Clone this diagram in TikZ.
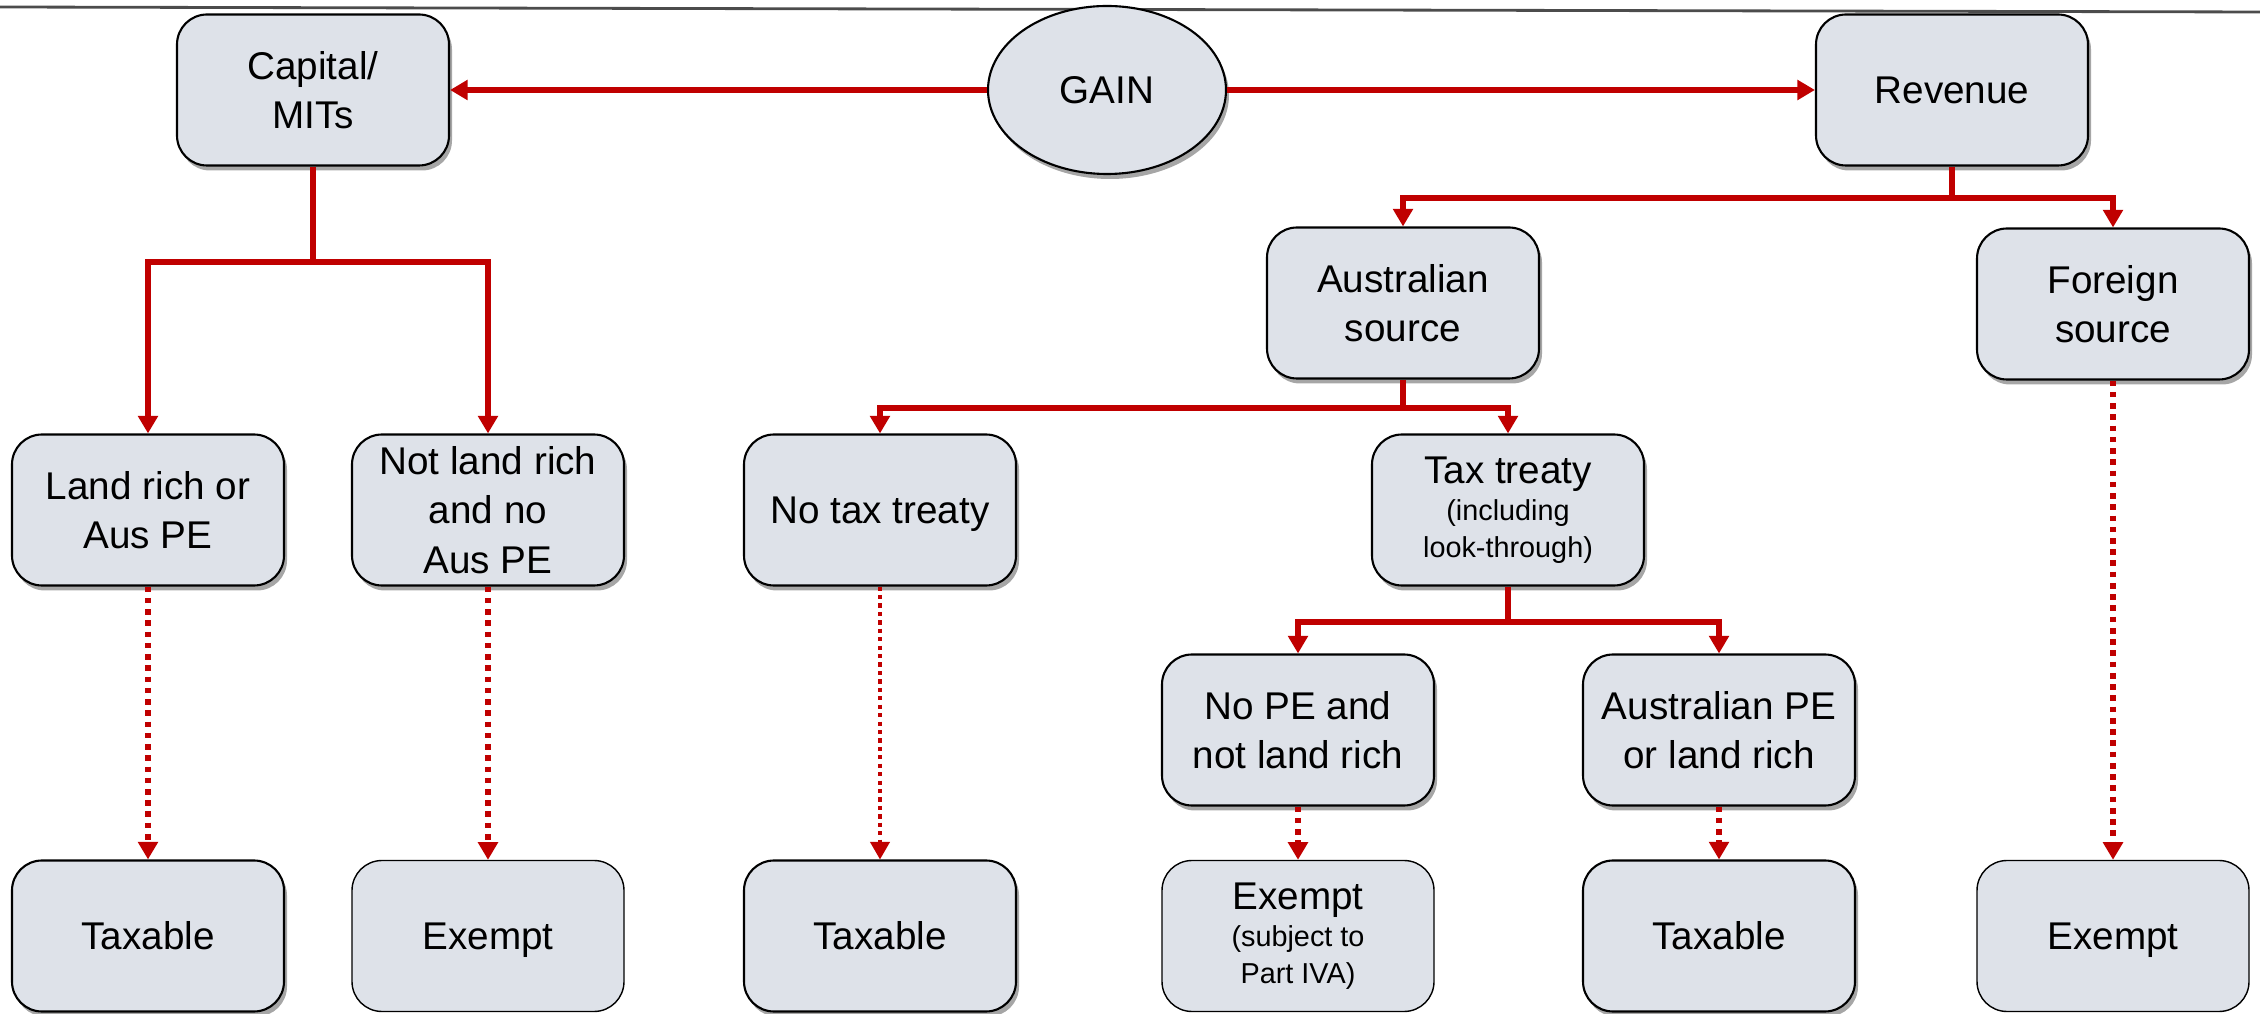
\documentclass[tikz,border=0pt]{standalone}
\usepackage{fontspec}
\setmainfont{Liberation Sans}
\usetikzlibrary{arrows.meta, shadows, shapes.geometric}
\definecolor{boxfill}{RGB}{222,226,233}
\definecolor{flowred}{RGB}{192,0,0}
\newcommand{\bigtxt}{\fontsize{11}{14}\selectfont}
\newcommand{\smalltxt}{\fontsize{8.2}{9.2}\selectfont}

\begin{document}
\begin{tikzpicture}[
    box/.style={draw=black, line width=0.6pt, fill=boxfill, rounded corners=0.3cm,
      minimum width=2.72cm, minimum height=1.51cm, align=center, font=\bigtxt, inner sep=2pt,
      drop shadow={shadow xshift=0.03cm, shadow yshift=-0.05cm, fill=black, opacity=0.35}},
    endbox/.style={draw=black, line width=0.4pt, fill=boxfill, rounded corners=0.3cm,
      minimum width=2.72cm, minimum height=1.51cm, align=center, font=\bigtxt, inner sep=2pt},
    flow/.style={draw=flowred, line width=1.7pt, -{Triangle[length=5pt,width=5.5pt]}},
    dotflow/.style={flow, dash pattern=on 1.6pt off 1.6pt},
    thindot/.style={flow, line width=0.9pt, dash pattern=on 1.2pt off 1.2pt}
  ]
    \useasboundingbox (0,0) rectangle (22.6,-10.14);
    \draw[black!70, line width=0.8pt] (0,-0.07) -- (22.6,-0.12);
    \node[box] (11) at (3.13,-0.9) {Capital/\\MITs};
    \node[box, ellipse, minimum width=2.38cm, minimum height=1.68cm] (12) at (11.07,-0.9) {GAIN};
    \node[box] (13) at (19.52,-0.9) {Revenue};
    \node[box] (21) at (14.03,-3.03) {Australian\\source};
    \node[box] (22) at (21.13,-3.04) {Foreign\\source};
    \node[box] (31) at (1.48,-5.1) {Land rich or\\Aus PE};
    \node[box] (32) at (4.88,-5.1) {Not land rich\\and no\\Aus PE};
    \node[box, text depth=0pt] (33) at (8.8,-5.1) {No tax treaty};
    \node[box] (34) at (15.08,-5.1) {Tax treaty\\[-3.5pt]{\smalltxt (including}\\[-3.5pt]{\smalltxt look-through)}};
    \node[box] (41) at (12.98,-7.3) {No PE and\\not land rich};
    \node[box] (42) at (17.19,-7.3) {Australian PE\\or land rich};
    \node[box] (51) at (1.48,-9.36) {Taxable};
    \node[endbox, text depth=0pt] (52) at (4.88,-9.36) {Exempt};
    \node[box] (53) at (8.8,-9.36) {Taxable};
    \node[endbox] (54) at (12.98,-9.36) {Exempt\\[-3.5pt]{\smalltxt (subject to}\\[-3.5pt]{\smalltxt Part IVA)}};
    \node[box] (55) at (17.19,-9.36) {Taxable};
    \node[endbox, text depth=0pt] (56) at (21.13,-9.36) {Exempt};
    % horizontal lines
    \draw[flow] (12) -- (11);
    \draw[flow] (12) -- (13);
    % branches
    \draw[flow] (11.south) -- ++(0,-0.95) -| (31);
    \draw[flow] (11.south) -- ++(0,-0.95) -| (32);
    \draw[flow] (13.south) -- ++(0,-0.31) -| (21);
    \draw[flow] (13.south) -- ++(0,-0.31) -| (22);
    \draw[flow] (21.south) -- ++(0,-0.28) -| (33);
    \draw[flow] (21.south) -- ++(0,-0.28) -| (34);
    \draw[flow] (34.south) -- ++(0,-0.35) -| (41);
    \draw[flow] (34.south) -- ++(0,-0.35) -| (42);
    % dotted lines
    \draw[dotflow] (31) -- (51);
    \draw[dotflow] (32) -- (52);
    \draw[thindot] (33) -- (53);
    \draw[dotflow] (41) -- (54);
    \draw[dotflow] (42) -- (55);
    \draw[dotflow] (22) -- (56);
  \end{tikzpicture}
\end{document}
